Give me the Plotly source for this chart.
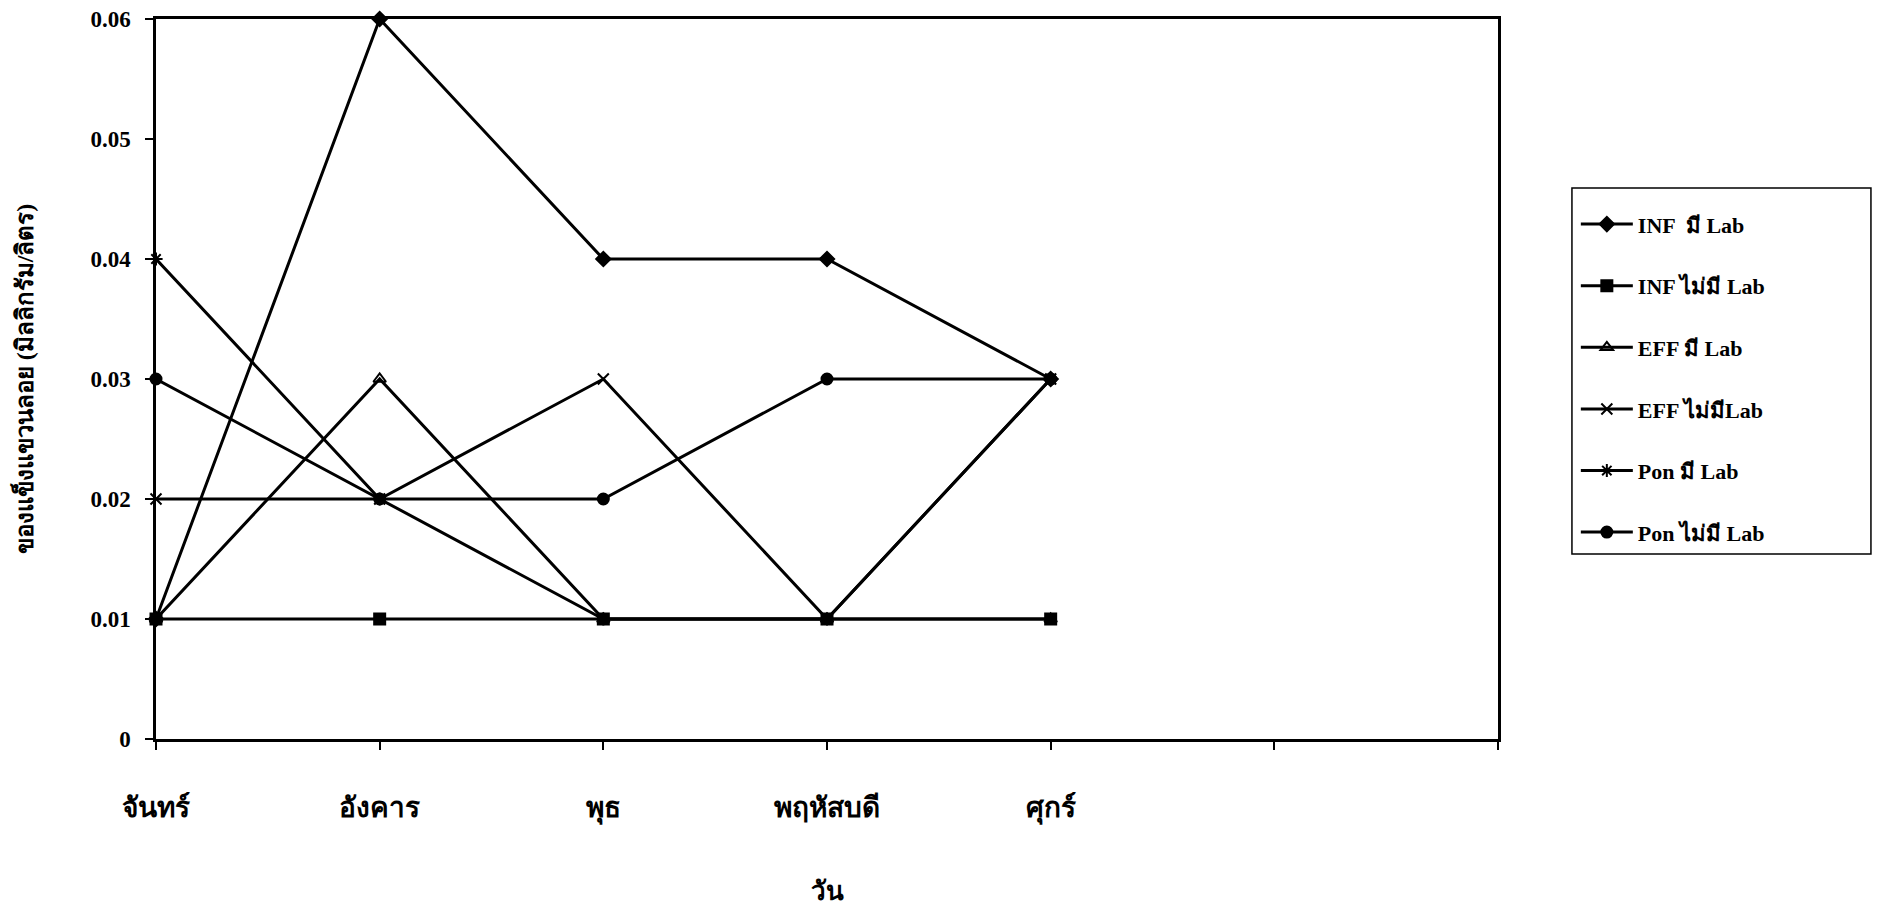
import plotly.graph_objects as go

days = ["จันทร์", "อังคาร", "พุธ", "พฤหัสบดี", "ศุกร์"]
tick_labels = days + ["", ""]

inf_lab = [0.01, 0.06, 0.04, 0.04, 0.03]
inf_nolab = [0.01, 0.01, 0.01, 0.01, 0.01]
eff_lab = [0.01, 0.03, 0.01, 0.01, 0.01]
eff_nolab = [0.02, 0.02, 0.03, 0.01, 0.03]
pon_lab = [0.04, 0.02, 0.01, 0.01, 0.03]
pon_nolab = [0.03, 0.02, 0.02, 0.03, 0.03]

series = [
    ("INF  มี Lab", inf_lab, "diamond"),
    ("INF ไม่มี Lab", inf_nolab, "square"),
    ("EFF มี Lab", eff_lab, "triangle-up-open"),
    ("EFF ไม่มีLab", eff_nolab, "x-thin-open"),
    ("Pon มี Lab", pon_lab, "asterisk-open"),
    ("Pon ไม่มี Lab", pon_nolab, "circle"),
]

SERIF = "Liberation Serif, Times New Roman, serif"

x = list(range(len(days)))

fig = go.Figure()
for i, (name, vals, sym) in enumerate(series):
    fig.add_trace(go.Scatter(
        x=x, y=vals, name=name, mode="lines+markers",
        legendgroup="g%d" % i,
        line=dict(color="black", width=3),
        marker=dict(symbol=sym, size=11, color="black",
                    line=dict(color="black", width=2)),
        cliponaxis=False))

# legend frame (Excel-style box)
fig.add_shape(type="rect", xref="paper", yref="paper",
              x0=1.0551, x1=1.2779, y0=0.2569, y1=0.7653,
              line=dict(color="black", width=1.5), fillcolor="rgba(0,0,0,0)")

# page has an 8px body margin, so keep the figure inside the window
fig.update_layout(
    width=1864, height=898,
    paper_bgcolor="white", plot_bgcolor="white",
    margin=dict(l=148, r=374, t=11, b=167, autoexpand=False),
    font=dict(family=SERIF, color="black", size=20),
    showlegend=True,
    legend=dict(
        x=1.058, y=0.744, xanchor="left", yanchor="top",
        borderwidth=0, bgcolor="rgba(0,0,0,0)",
        font=dict(family=SERIF, size=22, weight="bold"),
        tracegroupgap=30, itemwidth=52),
    xaxis=dict(
        range=[0, 6], tickmode="array", tickvals=list(range(7)),
        ticktext=tick_labels, showgrid=False, zeroline=False,
        showline=True, linecolor="black", linewidth=2.5, mirror=True,
        ticks="outside", ticklen=8, tickcolor="black", tickwidth=2,
        ticklabelstandoff=34, automargin=False,
        tickfont=dict(family=SERIF, size=28, weight="bold"),
        title=dict(text="วัน", standoff=67,
                   font=dict(family=SERIF, size=26, weight="bold"))),
    yaxis=dict(
        range=[0, 0.06], dtick=0.01, showgrid=False, zeroline=False,
        showline=True, linecolor="black", linewidth=2.5, mirror=True,
        ticks="outside", ticklen=8, tickcolor="black", tickwidth=2,
        ticklabelstandoff=10, automargin=False, ticklabeloverflow="allow",
        tickfont=dict(family=SERIF, size=23, weight="bold"),
        title=dict(text="ของแข็งแขวนลอย (มิลลิกรัม/ลิตร)", standoff=51,
                   font=dict(family=SERIF, size=24, weight="bold"))),
)

fig.write_html("out.html")
